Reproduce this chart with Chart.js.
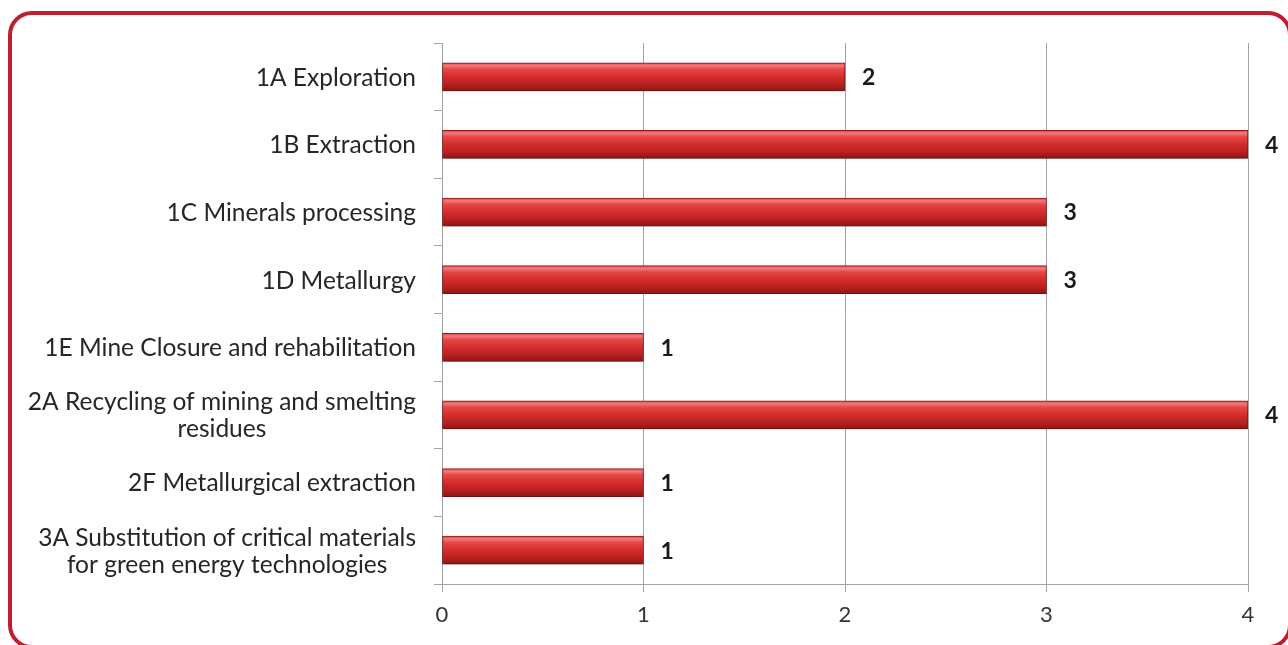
<!DOCTYPE html>
<html>
<head>
<meta charset="utf-8">
<script src="https://cdn.jsdelivr.net/npm/chart.js@4.4.1/dist/chart.umd.min.js"></script>
<style>
  html, body { margin: 0; padding: 0; background: #ffffff; overflow: hidden; }
  #wrap { position: relative; width: 1288px; height: 645px; overflow: hidden; }
  #frame { position: absolute; left: 8px; top: 11px; width: 1276px; height: 630px;
           border: 4px solid #BE1E2D; border-radius: 24px; pointer-events: none; }
  canvas { position: absolute; left: 0; top: 0; }
</style>
</head>
<body>
<div id="wrap">
  <canvas id="c" width="1288" height="645"></canvas>
  <div id="frame"></div>
</div>
<script>
const categories = [
  ["1A Exploration"],
  ["1B Extraction"],
  ["1C Minerals processing"],
  ["1D Metallurgy"],
  ["1E Mine Closure and rehabilitation"],
  ["2A Recycling of mining and smelting", "residues"],
  ["2F Metallurgical extraction"],
  ["3A Substitution of critical materials", "for green energy technologies"]
];
const values = [2, 4, 3, 3, 1, 4, 1, 1];
const xTicks = [0, 1, 2, 3, 4];

const LABEL_FONT = '24.5px Lato';
const TEXT_COLOR = '#262626';
const GRID = '#A3A3A3';

function barGradient(context) {
  const chart = context.chart;
  const c = chart.ctx;
  if (!chart.chartArea || !chart.scales.y) return '#C62828';
  const y = chart.scales.y.getPixelForValue(context.dataIndex);
  const h = 14;
  const g = c.createLinearGradient(0, y - h, 0, y + h);
  g.addColorStop(0.00, '#D84848');
  g.addColorStop(0.10, '#F27A7A');
  g.addColorStop(0.22, '#E84848');
  g.addColorStop(0.50, '#D42C2C');
  g.addColorStop(0.78, '#B82020');
  g.addColorStop(1.00, '#8C1515');
  return g;
}

const shadowPlugin = {
  id: 'barShadow',
  beforeDatasetsDraw(chart) {
    const c = chart.ctx;
    c.save();
    c.shadowColor = 'rgba(0,0,0,0.28)';
    c.shadowBlur = 7;
    c.shadowOffsetY = 5;
  },
  afterDatasetsDraw(chart) {
    chart.ctx.restore();
    const c = chart.ctx;
    const meta = chart.getDatasetMeta(0);
    c.save();
    c.font = 'bold 23px Lato';
    c.fillStyle = '#1A1A1A';
    c.textAlign = 'left';
    c.textBaseline = 'middle';
    meta.data.forEach((bar, i) => {
      c.fillText(String(values[i]), bar.x + 17, bar.y + 1);
    });
    c.restore();
  }
};

const yLabelPlugin = {
  id: 'yLabels',
  afterDraw(chart) {
    const c = chart.ctx;
    const ys = chart.scales.y;
    const right = 416;
    const lh = 27;
    c.save();
    c.font = LABEL_FONT;
    c.fillStyle = TEXT_COLOR;
    c.textAlign = 'center';
    c.textBaseline = 'middle';
    categories.forEach((lines, i) => {
      const cy = ys.getPixelForTick(i);
      const w = Math.max(...lines.map(l => c.measureText(l).width));
      const cx = right - w / 2;
      const y0 = cy - (lines.length - 1) * lh / 2;
      lines.forEach((l, k) => c.fillText(l, cx, y0 + k * lh + 1));
    });
    c.restore();
  }
};

new Chart(document.getElementById('c'), {
  type: 'bar',
  data: {
    labels: categories,
    datasets: [{
      data: values,
      backgroundColor: barGradient,
      borderColor: '#8E1818',
      borderWidth: 1,
      borderSkipped: false,
      barThickness: 28
    }]
  },
  options: {
    indexAxis: 'y',
    responsive: false,
    animation: false,
    layout: { padding: { left: 0, right: 40, top: 43, bottom: 0 } },
    plugins: { legend: { display: false }, tooltip: { enabled: false } },
    scales: {
      x: {
        min: 0, max: 4,
        afterFit(s) { s.height = 61; },
        afterBuildTicks(s) { s.ticks = xTicks.map(v => ({ value: v })); },
        grid: { color: GRID, lineWidth: 1, tickLength: 8, drawTicks: true },
        border: { color: GRID, width: 1 },
        ticks: { color: '#333333', font: { family: 'Lato', size: 22 }, padding: 10 }
      },
      y: {
        afterFit(s) { s.width = 442; },
        grid: { display: true, drawOnChartArea: false, offset: true, color: GRID, tickLength: 8 },
        border: { color: GRID, width: 1 },
        ticks: { display: false }
      }
    }
  },
  plugins: [shadowPlugin, yLabelPlugin]
});
</script>
</body>
</html>
